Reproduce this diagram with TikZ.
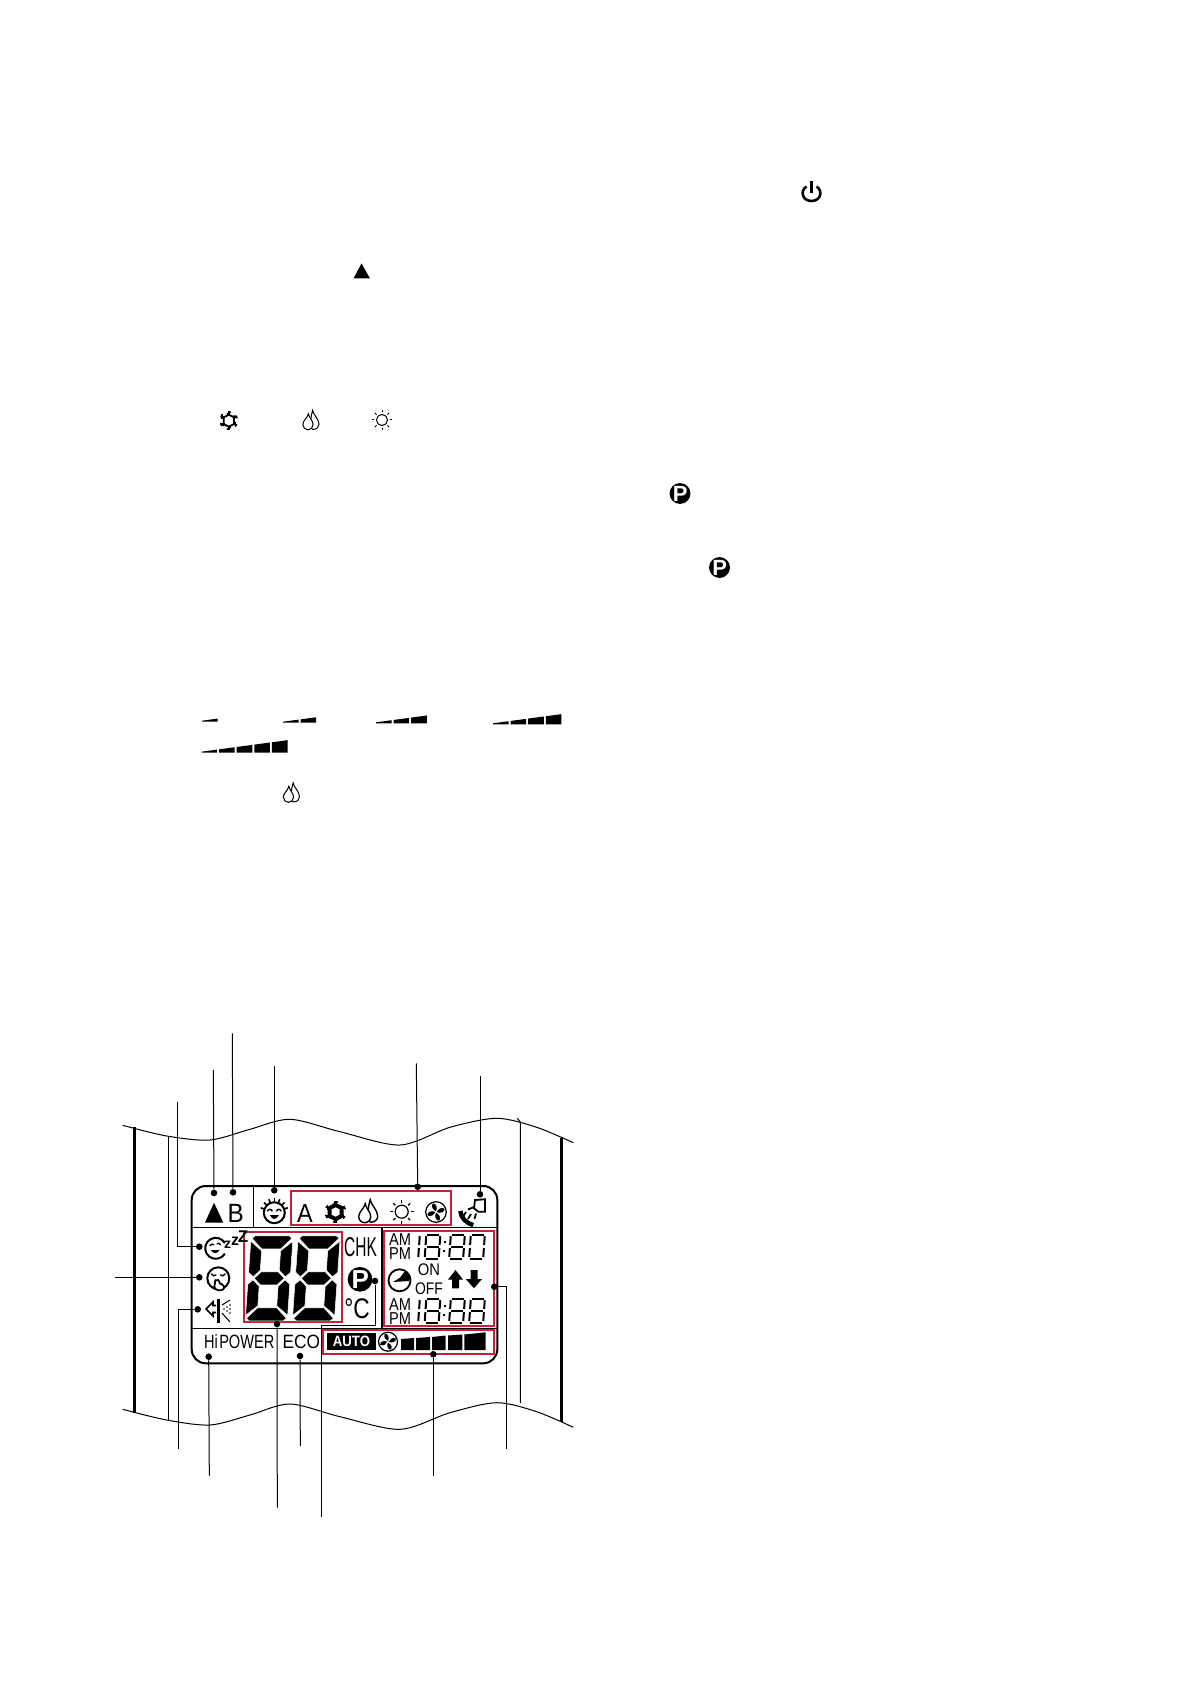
\documentclass[tikz,border=0pt]{standalone}
\usepackage{fontspec}
\setmainfont{Liberation Sans}
\definecolor{boxred}{HTML}{C8203A}
\newcommand{\lcdsize}[1]{\fontsize{#1}{#1}\selectfont}
\def\digeight{-6/-12/6/-12,-6/0/6/0,-6/12/6/12,-7/-10.5/-7/-1.5,7/-10.5/7/-1.5,-7/1.5/-7/10.5,7/1.5/7/10.5}
\def\digzero{-6/-12/6/-12,-6/12/6/12,-7/-10.5/-7/-1.5,7/-10.5/7/-1.5,-7/1.5/-7/10.5,7/1.5/7/10.5}
\def\digone{0/-10.5/0/-1.5,0/1.5/0/10.5}
\tikzset{
	lcdlabel/.style={inner sep=0pt,outer sep=0pt},
	leader/.style={line width=.5pt},
	dot/.style={circle,fill=black,minimum size=3.3pt,inner sep=0pt},
	redbox/.style={draw=boxred,line width=1pt},
	bigseg/.style={fill=black,draw=white,line width=.25pt},
	pics/bigdigit/.style={code={
		\foreach \sy in {1,-1}
			\draw[bigseg,yscale=\sy] (-17,-42.5) -- (17,-42.5) -- (20,-40) -- (9.5,-29.5) -- (-9.5,-29.5) -- (-20,-40) -- cycle;
		\foreach \sx/\sy in {1/1,-1/1,1/-1,-1/-1}
			\draw[bigseg,xscale=\sx,yscale=\sy] (-21,-37) -- (-9.5,-27.5) -- (-9.5,-8) -- (-16,-1.5) -- (-21,-6) -- cycle;
		\draw[bigseg] (-15,0) -- (-8.5,-6.5) -- (8.5,-6.5) -- (15,0) -- (8.5,6.5) -- (-8.5,6.5) -- cycle;
	}},
	pics/smalldigit/.style={code={
		\foreach \xa/\ya/\xb/\yb in #1
			\draw[line width=1pt] (\xa,\ya) -- (\xb,\yb);
	}},
	pics/snowicon/.style={code={
		\draw (0,-7) -- (6,-4) -- (6,4) -- (0,7) -- (-6,4) -- (-6,-4) -- cycle;
		\foreach \a in {30,90,...,330} {
			\draw[line width=1.1pt] (\a:6) -- (\a:11);
			\draw[line width=.7pt] (\a:9) ++(\a+60:2.8) -- ++(\a+240:5.6);
		}
	}},
	pics/dropicon/.style={code={
		\draw (2.5,-12) .. controls (3,-7) and (10,-2) .. (10,4.5) .. controls (10,8) and (7,10.5) .. (3,10.5) .. controls (0,10.5) and (-2,5) .. (2.5,-12) -- cycle;
		\draw[fill=white] (-2.5,-8) .. controls (-3.5,-3) and (-9,0) .. (-9,5) .. controls (-9,8.5) and (-6,11) .. (-3,11) .. controls (0,11) and (3,8.5) .. (3,5) .. controls (3,0) and (-1.5,-3) .. (-2.5,-8) -- cycle;
	}},
	pics/sunicon/.style={code={
		\draw (0,0) circle[radius=6.5];
		\foreach \a in {0,45,...,315}
			\draw (\a:9) -- (\a:12);
	}},
	pics/fanicon/.style={code={
		\draw[line width=.6pt] (0,0) circle[radius=10.3];
		\foreach \a in {0,90,180,270}
			\fill[rotate=\a] (.8,0) .. controls (2,-3) and (5,-5) .. (8.5,-3.5) .. controls (9.5,0) and (4,2) .. (.8,0) -- cycle;
	}},
	pics/picon/.style={code={
		\fill (0,0) circle[radius={.95*#1}];
		\node[lcdlabel,text=white,font=\bfseries\lcdsize{#1}] (P) at (.3,0) {P};
	}},
}
\newcommand{\rampbars}[3]{
	\foreach \i in {1,...,#3}
		\fill ({#1+(\i-1)*17.6},#2) -- ({#1+(\i-1)*17.6+15.6},#2) -- ({#1+(\i-1)*17.6+15.6},{#2-1-.134*((\i-1)*17.6+15.6)}) -- ({#1+(\i-1)*17.6},{#2-1-.134*(\i-1)*17.6}) -- cycle;
}
\newcommand{\timerow}[2]{
	\pic[xslant=.07] at (419,#1) {smalldigit=\digone};
	\pic[xslant=.07] at (432.5,#1) {smalldigit=\digeight};
	\pic[xslant=.07] at (457,#1) {smalldigit=\digeight};
	\pic[xslant=.07] at (477,#1) {smalldigit=#2};
	\fill (445,#1-4.5) circle[radius=1.3];
	\fill (444,#1+4.5) circle[radius=1.3];
}

\begin{document}
\begin{tikzpicture}[x=.5pt,y=-.5pt]
	\useasboundingbox (0,0) rectangle (1190,1684);

	% symbols of the text above
	\draw[line width=1.3pt] (806.5,186.5) .. controls (799.5,191) and (802.5,201) .. (811.5,201) .. controls (820.5,201) and (823.5,191) .. (816.5,186.5);
	\draw[line width=1.3pt] (811.5,181) -- (811.5,193);
	\fill (361.5,263.5) -- (370,278.5) -- (353.5,278.5) -- cycle;
	\pic[scale=.85,line width=.9pt] (snowtext) at (228.8,420.7) {snowicon};
	\pic[scale=.85,line width=.5pt] (droptextA) at (310.5,420.5) {dropicon};
	\pic[scale=.85,line width=.5pt] (suntext) at (382,420) {sunicon};
	\pic (ptextA) at (680,493.5) {picon=11};
	\pic (ptextB) at (719.5,567.5) {picon=11};
	\rampbars{202}{721.7}{1}
	\rampbars{283}{722.7}{2}
	\rampbars{376}{723.3}{3}
	\rampbars{493}{724.3}{4}
	\rampbars{201.5}{752.7}{5}
	\pic[scale=.85,line width=.5pt] (droptextB) at (291,793) {dropicon};

	% casing
	\draw[line width=.5pt] plot[smooth] coordinates {(122.7,1125.3) (166.7,1136) (210,1140) (250,1129.3) (290,1119.3) (340,1131.7) (400,1145) (450,1127.3) (496.7,1118.3) (536.7,1127.3) (573.3,1142.7)};
	\draw[line width=.5pt] plot[smooth] coordinates {(122.7,1409.3) (166.7,1420) (210,1425) (250,1415) (290,1404) (340,1416.7) (400,1429.3) (450,1412.7) (496.7,1402.7) (536.7,1411.7) (573.3,1427.3)};
	\draw[line width=1.5pt] (134,1127.3) -- (134,1412.7);
	\draw[line width=1.5pt] (561.7,1138) -- (561.7,1421.7);
	\draw[leader] (168.7,1136.7) -- (168.7,1420);
	\draw[leader] (517.3,1118.3) -- (520.3,1122) -- (520.3,1403);

	% display
	\draw[line width=1pt,rounded corners=7pt] (191.7,1186) rectangle (497.3,1363.3);
	\draw[line width=.5pt] (192,1227.3) -- (497,1227.3);
	\draw[line width=.5pt] (192,1328.3) -- (497,1328.3);
	\draw[line width=.5pt] (253.3,1186) -- (253.3,1227.3);
	\draw[line width=.8pt] (382,1227.3) -- (382,1328.3);

	\draw[redbox] (290.7,1190.7) rectangle (451.3,1225);
	\draw[redbox] (243.7,1231.7) rectangle (342.3,1322);
	\draw[redbox] (384,1230.7) rectangle (493.7,1326.3);
	\draw[redbox] (323.3,1330) rectangle (493.7,1354.3);

	% top row
	\fill (214,1202.7) -- (223.3,1222.7) -- (205,1222.7) -- cycle;
	\node[lcdlabel,font=\lcdsize{13.2},xscale=.92] (letterb) at (235.7,1213.8) {B};
	\node[lcdlabel,font=\lcdsize{13},xscale=.9] (lettera) at (305,1214) {A};
	\begin{scope}[shift={(274.3,1212.7)},line width=1pt]
		\draw (0,0) circle[radius=10.5];
		\foreach \a in {-160,-135,-112,-90,-68,-45,-20}
			\draw[line width=.8pt] (\a:11) -- (\a:14.5);
		\draw[line width=.7pt] (-7,-1.5) .. controls (-5.5,-4) and (-3.5,-4) .. (-2,-1.5);
		\draw[line width=.7pt] (2,-1.5) .. controls (3.5,-4) and (5.5,-4) .. (7,-1.5);
		\fill (-4.5,2.5) .. controls (-2,7.5) and (2,7.5) .. (4.5,2.5) -- cycle;
	\end{scope}
	\pic[line width=2pt] (snowlcd) at (335.5,1212) {snowicon};
	\pic[line width=.7pt] (droplcd) at (367.7,1211.7) {dropicon};
	\pic[line width=.6pt] (sunlcd) at (401.7,1211.7) {sunicon};
	\pic (fanlcdA) at (436,1212) {fanicon};
	\begin{scope}[line width=.9pt]
		\draw (475,1200) -- (485,1199.3) -- (485,1211.7) -- (478.3,1211.7) -- (474,1208.3) -- cycle;
		\draw[line width=2.2pt] (460.3,1211) .. controls (461,1218) and (466,1223) .. (473.3,1225);
		\draw (466,1212) -- (463,1216.5);
		\draw (471,1214) -- (468,1219);
		\draw (476,1213.5) -- (474.5,1219);
		\draw (474,1207) -- (468,1209.5);
	\end{scope}

	% left column
	\begin{scope}[shift={(215.7,1248.3)},line width=1pt]
		\draw (-30:10.5) arc[start angle=-30,end angle=-330,radius=10.5];
		\draw[line width=.7pt] (-6,-2.5) .. controls (-4.5,-4.5) and (-3,-4.5) .. (-1.5,-3.5);
		\draw[line width=.7pt] (1,-4.5) .. controls (2.5,-5.5) and (4,-5) .. (5,-3.5);
		\fill (-5,2) .. controls (-2,6) and (2,5.5) .. (4,1.5) -- cycle;
	\end{scope}
	\node[lcdlabel,font=\bfseries\lcdsize{7}] (sleepza) at (227.5,1245) {z};
	\node[lcdlabel,font=\bfseries\lcdsize{8}] (sleepzb) at (235,1241) {z};
	\node[lcdlabel,font=\bfseries\lcdsize{8.5}] (sleepzc) at (243,1236.5) {Z};
	\begin{scope}[shift={(218.3,1278.3)},line width=1pt]
		\draw (0,0) circle[radius=11];
		\draw[line width=.7pt] (-7,-4.5) .. controls (-5.5,-2) and (-3.5,-2) .. (-2,-3.5);
		\draw[line width=.7pt] (2,-3.5) .. controls (3.5,-2) and (5.5,-2) .. (7,-4.5);
		\draw[fill=white,line width=.9pt] (-3,2) .. controls (-1,1) and (1,1.5) .. (1.5,5) .. controls (5,6) and (7,9) .. (5,11) .. controls (2,13) and (-3,12) .. (-4,9) -- cycle;
	\end{scope}
	\draw[line width=.8pt] (216,1305.5) -- (213,1305.5) -- (213,1302) -- (206,1309) -- (213,1316) -- (213,1312.5) -- (216,1312.5);
	\draw[line width=1.2pt] (218.3,1299.3) -- (218.3,1322.7);
	\draw[line width=.5pt] (222,1305) -- (230,1300);
	\draw[line width=.5pt] (222,1313) -- (230,1322);
	\foreach \xd/\yd in {224/1309,227/1307,227/1311,230/1305,230/1309,230/1313}
		\fill (\xd,\yd) circle[radius=.8];

	% big digits
	\pic[xslant=.07] (bigdigita) at (269.2,1278.3) {bigdigit};
	\pic[xslant=.07] (bigdigitb) at (316.3,1278.3) {bigdigit};
	\node[lcdlabel,font=\lcdsize{13.6},xscale=.57] (chk) at (360.5,1247.5) {CHK};
	\pic (plcd) at (360,1279.3) {picon=13};
	\node[lcdlabel,font=\lcdsize{14.2},xscale=.8] (degc) at (357,1308.5) {°C};

	% timer
	\node[lcdlabel,font=\lcdsize{8.6},xscale=.85] (ama) at (400,1239.3) {AM};
	\node[lcdlabel,font=\lcdsize{8.6},xscale=.85] (pma) at (400,1254) {PM};
	\node[lcdlabel,font=\lcdsize{8.6},xscale=.85] (amb) at (400,1305) {AM};
	\node[lcdlabel,font=\lcdsize{8.6},xscale=.85] (pmb) at (400,1319) {PM};
	\timerow{1246.5}{\digzero}
	\timerow{1310.5}{\digeight}
	\draw[line width=.9pt] (399.5,1280.3) circle[radius=11];
	\fill (393,1282) .. controls (396,1279.5) and (400,1279) .. (402,1275) .. controls (403,1272) and (405,1271.5) .. (407,1272) .. controls (410,1275) and (410,1279) .. (409,1281) -- cycle;
	\node[lcdlabel,font=\lcdsize{8.4},xscale=.88] (onlabel) at (429,1270) {ON};
	\node[lcdlabel,font=\lcdsize{8.4},xscale=.83] (offlabel) at (429,1288.3) {OFF};
	\fill (455.5,1270) -- (463,1279.5) -- (459,1279.5) -- (459,1288.3) -- (452,1288.3) -- (452,1279.5) -- (448,1279.5) -- cycle;
	\fill (474,1288.3) -- (482,1279) -- (477.5,1279) -- (477.5,1270) -- (470.5,1270) -- (470.5,1279) -- (465.7,1279) -- cycle;

	% bottom row
	\node[lcdlabel,font=\lcdsize{9.6},xscale=.76] (hipower) at (239.2,1342) {Hi\hspace{.1em}POWER};
	\node[lcdlabel,font=\lcdsize{9.6},xscale=.9] (eco) at (301.3,1341.5) {ECO};
	\fill (327.3,1332.7) rectangle (376,1350);
	\node[lcdlabel,text=white,font=\bfseries\lcdsize{7.5},xscale=.88] (autolabel) at (351.5,1341.3) {AUTO};
	\pic[scale=.92] (fanlcdB) at (388,1341.7) {fanicon};
	\foreach \xa/\xb/\ya/\yb in {401/414/1339/1338,416/430/1338/1337,432/445.7/1337/1335.5,448/462.3/1335.5/1334.5,464.3/485.7/1334.5/1332.3}
		\fill (\xa,1350) -- (\xb,1350) -- (\xb,\yb) -- (\xa,\ya) -- cycle;

	% dots and leaders
	\node[dot] (dotb) at (233,1192.3) {};
	\node[dot] (dottri) at (214,1193) {};
	\node[dot] (dotface) at (274.3,1190.3) {};
	\node[dot] (dotmode) at (417.7,1186.7) {};
	\node[dot] (dotunit) at (480,1194.3) {};
	\node[dot] (dotsleep) at (199.3,1246.7) {};
	\node[dot] (dotbreath) at (199.3,1277.3) {};
	\node[dot] (dotspray) at (197.7,1309.3) {};
	\node[dot] (dothi) at (208.7,1356.7) {};
	\node[dot] (dotdigits) at (277,1324) {};
	\node[dot] (doteco) at (300,1356) {};
	\node[dot] (dotp) at (375,1281) {};
	\node[dot] (dotfan) at (433.3,1354.3) {};
	\node[dot] (dottimer) at (494.3,1286.7) {};
	\coordinate (endb) at (232.3,1033.3);
	\coordinate (endtri) at (213.3,1070);
	\coordinate (endface) at (274.3,1066);
	\coordinate (endmode) at (416.3,1063.3);
	\coordinate (endunit) at (480,1076);
	\coordinate (endsleep) at (177.3,1102);
	\coordinate (endbreath) at (115.3,1277.3);
	\coordinate (endspray) at (178.3,1448.7);
	\coordinate (endhi) at (209.3,1475.7);
	\coordinate (enddigits) at (277.3,1507.7);
	\coordinate (endeco) at (300.3,1446);
	\coordinate (endp) at (321.3,1516.7);
	\coordinate (endfan) at (433.3,1475.7);
	\coordinate (endtimer) at (506.7,1448.7);
	\path[leader]
		(endb) edge (dotb) (endtri) edge (dottri) (endface) edge (dotface)
		(endmode) edge (dotmode) (endunit) edge (dotunit)
		(endbreath) edge (dotbreath) (endhi) edge (dothi)
		(enddigits) edge (dotdigits) (endeco) edge (doteco) (endfan) edge (dotfan)
	;
	\draw[leader] (endsleep) |- (dotsleep);
	\draw[leader] (endspray) |- (dotspray);
	\draw[leader] (endtimer) |- (dottimer);
	\draw[leader] (dotp) -- (375,1325.3) -| (endp);
\end{tikzpicture}
\end{document}
